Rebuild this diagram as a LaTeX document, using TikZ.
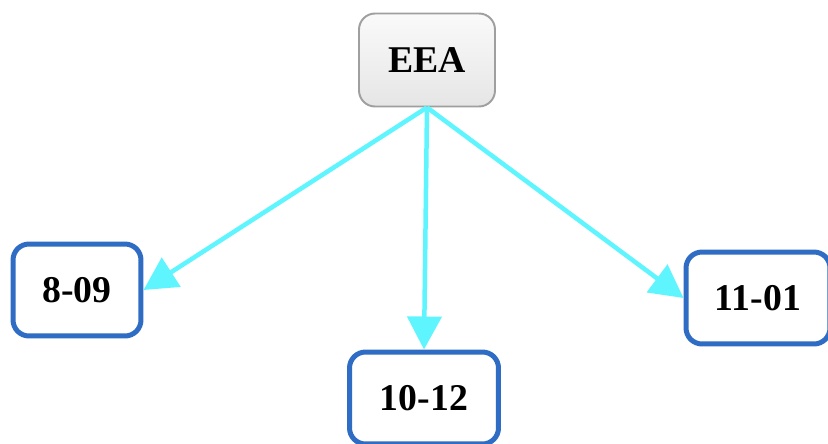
\documentclass[tikz,border=0pt]{standalone}
\usepackage{fontspec}
\setmainfont{Liberation Serif}
\usetikzlibrary{positioning,shapes,arrows.meta}

\definecolor{boxblue}{RGB}{47,108,196}
\definecolor{linkcyan}{RGB}{95,245,255}

\tikzset{
  root/.style={draw=gray!75, line width=1.1pt, rounded corners=0.32cm,
    top color=gray!4, bottom color=gray!20,
    minimum width=2.72cm, minimum height=1.86cm,
    font=\fontsize{21.5}{24}\selectfont\bfseries},
  leaf/.style={draw=boxblue, line width=0.1cm, rounded corners=0.32cm, fill=white,
    minimum height=1.84cm,
    font=\fontsize{21.5}{24}\selectfont\bfseries},
  link/.style={draw=linkcyan, line width=0.09cm,
    -{Triangle[length=0.66cm,width=0.68cm]}}
}

\begin{document}
\begin{tikzpicture}[x=0.02cm,y=-0.02cm]
    \useasboundingbox (0,0) rectangle (828,443);

		% Root
		\node[root] (eea) at (427,60) {EEA};

		% Months
		\node[leaf, minimum width=2.56cm] (m809) at (77,290) {8-09};
		\node[leaf, minimum width=2.98cm] (m1012) at (424,398) {10-12};
		\node[leaf, minimum width=2.88cm] (m1101) at (758,298) {11-01};

		% Arrows
		\draw[link] (eea.south) -- (m809.east);
		\draw[link] (eea.south) -- (m1012.north);
		\draw[link] (eea.south) -- (m1101.west);
	\end{tikzpicture}
\end{document}
